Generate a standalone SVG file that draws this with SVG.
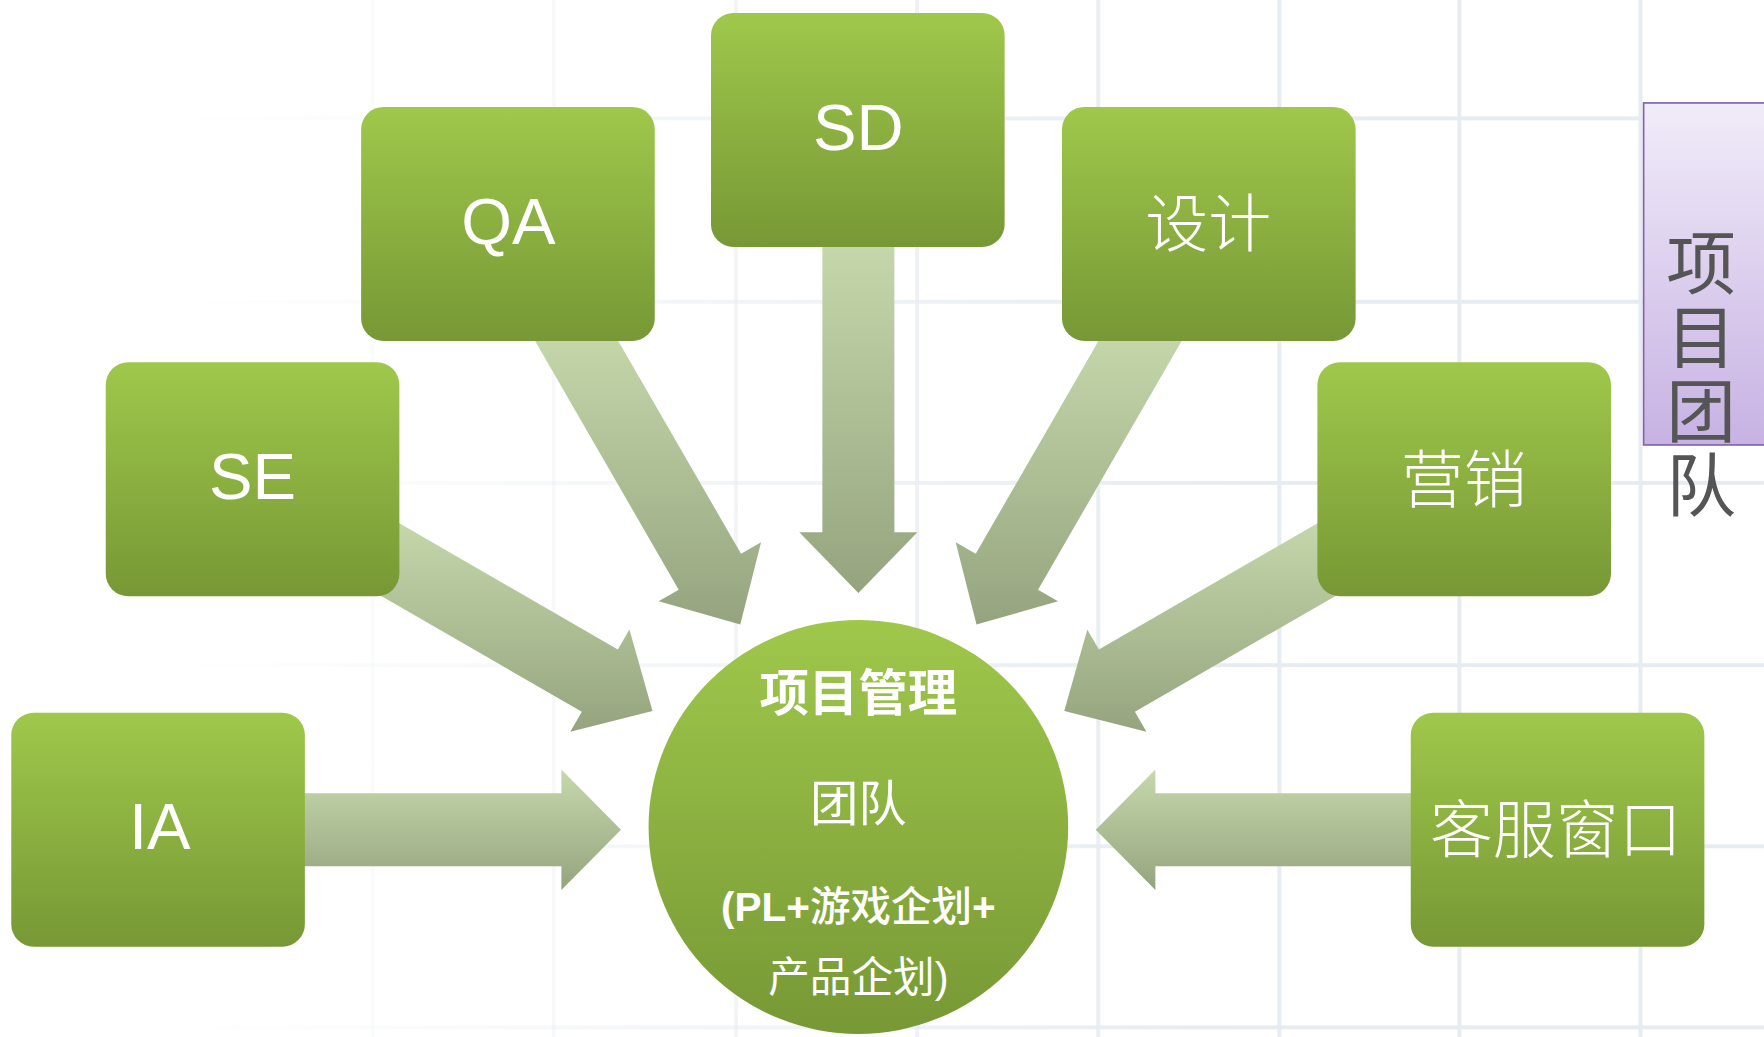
<svg xmlns="http://www.w3.org/2000/svg" width="1764" height="1037" viewBox="0 0 1764 1037">
<defs>
<linearGradient id="gBox" x1="0" y1="0" x2="0" y2="1">
<stop offset="0" stop-color="#9fc84b"/>
<stop offset="1" stop-color="#779835"/>
</linearGradient>
<linearGradient id="gArrow" x1="0" y1="0" x2="0" y2="1">
<stop offset="0" stop-color="#c6d8ac"/>
<stop offset="1" stop-color="#95a47e"/>
</linearGradient>
<linearGradient id="gPurple" x1="0" y1="0" x2="0" y2="1">
<stop offset="0" stop-color="#f1ecf9"/>
<stop offset="1" stop-color="#c7b2e3"/>
</linearGradient>
<linearGradient id="gGrid" gradientUnits="userSpaceOnUse" x1="150" y1="0" x2="1100" y2="0">
<stop offset="0" stop-color="#e6ecf1" stop-opacity="0"/>
<stop offset="1" stop-color="#e6ecf1" stop-opacity="1"/>
</linearGradient>
</defs>
<style>
.box{fill:url(#gBox);}
.arrow{fill:url(#gArrow);}
.lat{font-family:"Liberation Sans",Arial,sans-serif;font-size:58px;fill:#ffffff;text-anchor:middle;}
.cjk{font-family:"Noto Sans CJK SC",sans-serif;font-size:56px;font-weight:300;fill:#ffffff;text-anchor:middle;}
.ctr{font-family:"Liberation Sans","Noto Sans CJK SC",sans-serif;fill:#ffffff;text-anchor:middle;}
.side{font-family:"Noto Sans CJK SC",sans-serif;font-size:62px;fill:#555555;writing-mode:vertical-rl;letter-spacing:4px;}
.grid{fill:url(#gGrid);}
</style>
<rect x="0" y="0" width="1764" height="1037" fill="#ffffff"/>
<g transform="scale(1.125)">
<g id="grid">
<rect class="grid" x="329.5" y="0" width="3.5" height="922"/>
<rect class="grid" x="490.5" y="0" width="3.5" height="922"/>
<rect class="grid" x="652.5" y="0" width="3.5" height="922"/>
<rect class="grid" x="813.5" y="0" width="3.5" height="922"/>
<rect class="grid" x="974.5" y="0" width="3.5" height="922"/>
<rect class="grid" x="1135.5" y="0" width="3.5" height="922"/>
<rect class="grid" x="1295.5" y="0" width="3.5" height="922"/>
<rect class="grid" x="1456.5" y="0" width="3.5" height="922"/>
<rect class="grid" x="0" y="103.5" width="1568" height="3.5"/>
<rect class="grid" x="0" y="266.5" width="1568" height="3.5"/>
<rect class="grid" x="0" y="427.5" width="1568" height="3.5"/>
<rect class="grid" x="0" y="589.5" width="1568" height="3.5"/>
<rect class="grid" x="0" y="750.5" width="1568" height="3.5"/>
<rect class="grid" x="0" y="911.5" width="1568" height="3.5"/>
</g>
<g id="connectors">
<polygon class="arrow" points="731,210 731,473 710.5,473 763,527 815.5,473 795,473 795,210"/>
<polygon class="arrow" points="468.1,290 603.3,524.2 585.5,534.5 658,555 676.5,482 658.7,492.2 542,290"/>
<polygon class="arrow" points="1057.9,290 922.7,524.2 940.5,534.5 868,555 849.5,482 867.3,492.2 984,290"/>
<polygon class="arrow" points="345,459.4 549.2,577.3 559.5,559.5 580,632 506.9,650.5 517.2,632.7 330,524.6"/>
<polygon class="arrow" points="1181,459.4 976.8,577.3 966.5,559.5 946,632 1019.1,650.5 1008.8,632.7 1196,524.6"/>
<polygon class="arrow" points="260,705 499,705 499,684 552,737.5 499,791 499,770 260,770"/>
<polygon class="arrow" points="1266,705 1027,705 1027,684 974,737.5 1027,791 1027,770 1266,770"/>
</g>
<g id="node-sd">
<rect class="box" x="632" y="11.5" width="261" height="208" rx="20"/>
<text class="lat" x="763" y="133.3">SD</text>
</g>
<g id="node-qa">
<rect class="box" x="321" y="95" width="261" height="208" rx="20"/>
<text class="lat" x="452" y="216.8">QA</text>
</g>
<g id="node-design">
<rect class="box" x="944" y="95" width="261" height="208" rx="20"/>
<text class="cjk" x="1074" y="219">设计</text>
</g>
<g id="node-se">
<rect class="box" x="94" y="322" width="261" height="208" rx="20"/>
<text class="lat" x="224.5" y="443.8">SE</text>
</g>
<g id="node-marketing">
<rect class="box" x="1171" y="322" width="261" height="208" rx="20"/>
<text class="cjk" x="1301" y="446">营销</text>
</g>
<g id="node-ia">
<rect class="box" x="10" y="633.5" width="261" height="208" rx="20"/>
<text class="lat" x="142" y="755">IA</text>
</g>
<g id="node-service">
<rect class="box" x="1254" y="633.5" width="261" height="208" rx="20"/>
<text class="cjk" x="1383" y="757">客服窗口</text>
</g>
<g id="node-center">
<ellipse class="box" cx="763" cy="735" rx="186.5" ry="184"/>
<text class="ctr" x="763" y="632" font-size="44" font-weight="bold">项目管理</text>
<text class="ctr" x="763" y="730" font-size="43">团队</text>
<text class="ctr" x="763" y="819" font-size="36"><tspan font-weight="bold">(PL+</tspan><tspan font-weight="500">游戏企划</tspan><tspan font-weight="bold">+</tspan></text>
<text class="ctr" x="763" y="881.5" font-size="37">产品企划)</text>
</g>
<g id="node-team">
<rect x="1461" y="91.5" width="120" height="304" fill="url(#gPurple)" stroke="#8464ac" stroke-width="1.5"/>
<text class="side" x="1512" y="202">项目团队</text>
</g>
</g>
</svg>
